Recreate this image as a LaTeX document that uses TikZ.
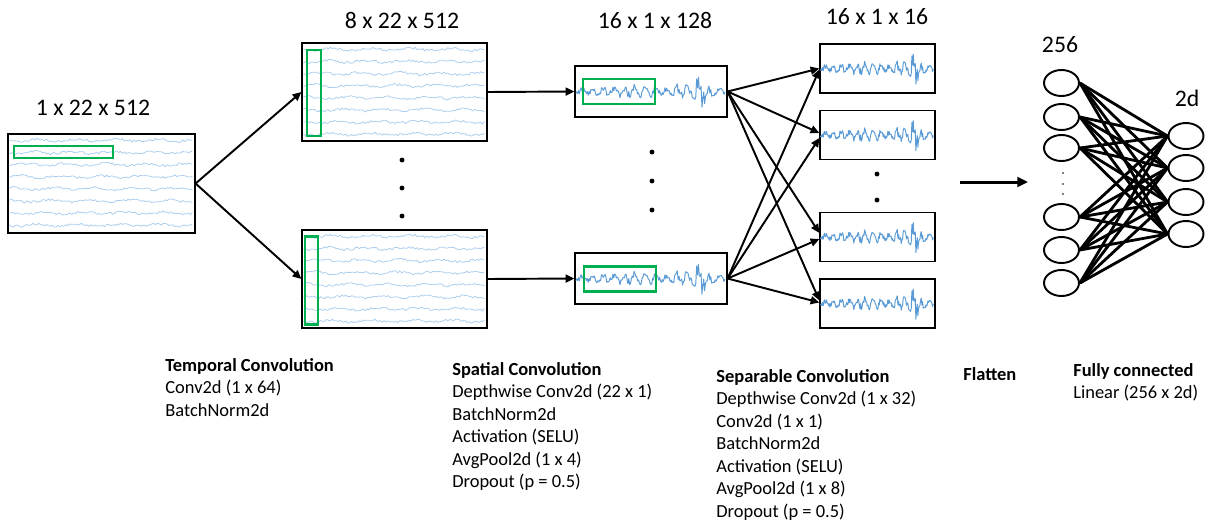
\documentclass[tikz,border=0pt]{standalone}
\usepackage{fontspec}
\setmainfont{Carlito}
\usepackage{tikz}
\usetikzlibrary{arrows.meta, shapes.geometric}

\definecolor{eegblue}{RGB}{172,206,238}
\definecolor{sigblue}{RGB}{91,155,213}
\definecolor{kgreen}{RGB}{0,176,80}

\begin{document}
\begin{tikzpicture}[x=0.02cm, y=-0.02cm,
    every node/.style={font=\fontsize{10.5}{12.8}\selectfont},
    dimlabel/.style={font=\fontsize{13.5}{16}\selectfont, anchor=base},
    layertext/.style={anchor=base west, align=left, inner sep=0pt},
    sigbox/.style={draw=black, line width=0.7pt, inner sep=0pt},
    kernel/.style={draw=kgreen, line width=1.7pt},
    eeg/.style={eegblue, line width=0.45pt, line join=round},
    sig/.style={sigblue, line width=0.55pt, line join=round},
    arr/.style={line width=1.1pt, -{Triangle[length=5pt, width=4.5pt]}},
    unit/.style={ellipse, draw=black, line width=1.1pt, minimum width=0.7cm, minimum height=0.52cm, inner sep=0pt},
    link/.style={line width=1.6pt},
    declare function={amp(\t)=5+12*max(0,1-((\t-0.84)/0.07)^2)+7*max(0,1-((\t-0.7)/0.05)^2)+2*max(0,1-((\t-0.4)/0.15)^2);}
]
\useasboundingbox (0,0) rectangle (1208,525);

% 1. INPUT EEG (1 x 22 x 512)
\node[sigbox, minimum width=3.74cm, minimum height=1.98cm] (in) at (101.5,183.5) {};
\node[dimlabel] (lin) at (93,115) {1 x 22 x 512};

% 2. TEMPORAL CONVOLUTION MAPS
\node[sigbox, minimum width=3.70cm, minimum height=1.96cm] (c1top) at (394.5,92) {};
\node[sigbox, minimum width=3.70cm, minimum height=1.96cm] (c1bot) at (394.5,279) {};
\node[dimlabel] (lc1) at (402,28) {8 x 22 x 512};

% EEG traces inside the three multi-channel boxes
\foreach \b/\w in {in/187, c1top/185, c1bot/185} {
  \begin{scope}[shift={(\b.north west)}]
    \pgfmathsetseed{11}
    \foreach \k in {0,...,7}
      \draw[eeg] plot[domain=2:\w-2, samples=95] (\x, {7+12.1*\k + 1.1*sin(9*\x+50*\k) + 1.2*rand});
  \end{scope}
}

% kernels (green)
\draw[kernel] (14,146) rectangle (113,158);
\draw[kernel] (307,50) rectangle (321,136);
\draw[kernel] (305,236) rectangle (318,324);

\foreach \y in {160,188,216} \fill (402,\y) circle (1.4pt);

% 3. SPATIAL CONVOLUTION MAPS
\node[sigbox, minimum width=3.04cm, minimum height=1.02cm] (c2top) at (651,91.5) {};
\node[sigbox, minimum width=3.04cm, minimum height=1.02cm] (c2bot) at (651,278.5) {};
\node[dimlabel] (lc2) at (655,28) {16 x 1 x 128};
\foreach \y in {152,181,210} \fill (652,\y) circle (1.4pt);

% 4. SEPARABLE CONVOLUTION MAPS
\node[sigbox, minimum width=2.30cm, minimum height=0.98cm] (s1) at (877.5,68.5) {};
\node[sigbox, minimum width=2.30cm, minimum height=0.98cm] (s2) at (877.5,135) {};
\node[sigbox, minimum width=2.30cm, minimum height=0.98cm] (s3) at (877.5,237) {};
\node[sigbox, minimum width=2.30cm, minimum height=0.98cm] (s4) at (877.5,303.5) {};
\node[dimlabel] (ls) at (877,24) {16 x 1 x 16};
\foreach \y in {174,200} \fill (877,\y) circle (1.4pt);

% single channel signals
\foreach \b/\w in {c2top/152, c2bot/152, s1/115, s2/115, s3/115, s4/115} {
  \begin{scope}[shift={(\b.west)}]
    \pgfmathsetseed{5}
    \draw[sig] plot[domain=0.01:0.99, samples=170, variable=\t] ({\t*\w}, {amp(\t)*(0.55*sin(\t*5200)+0.55*rand)});
  \end{scope}
}
\draw[kernel] (583,79) rectangle (655,104);
\draw[kernel] (584,266) rectangle (656,291);

% 5. ARROWS BETWEEN STAGES
\draw[arr] (in.east) -- (c1top.west);
\draw[arr] (in.east) -- (c1bot.west);
\draw[arr] (c1top.east) -- (c2top.west);
\draw[arr] (c1bot.east) -- (c2bot.west);

\draw[arr] (c2top.east) -- (s1.west);
\draw[arr] (c2top.east) -- ([yshift=0.04cm]s2.west);
\draw[arr] (c2top.east) -- ([yshift=0.08cm]s3.west);
\draw[arr] (c2top.east) -- ([yshift=0.06cm]s4.west);
\draw[arr] (c2bot.east) -- ([yshift=-0.02cm]s1.west);
\draw[arr] (c2bot.east) -- ([yshift=-0.06cm]s2.west);
\draw[arr] (c2bot.east) -- ([yshift=-0.04cm]s3.west);
\draw[arr] (c2bot.east) -- ([yshift=0.02cm]s4.west);

% 6. FLATTEN
\coordinate (fl0) at (960,182);
\coordinate (fl1) at (1028,182);
\draw[line width=1.7pt, -{Triangle[length=6pt, width=5.5pt]}] (fl0) -- (fl1);

% 7. FULLY CONNECTED
\foreach \i/\y in {1/83, 2/117, 3/148, 4/217, 5/250, 6/283}
  \node[unit] (l\i) at (1061.5,\y) {};
\foreach \j/\y in {1/136, 2/168, 3/202, 4/234}
  \node[unit] (r\j) at (1186,\y) {};
\foreach \i in {1,...,6}
  \foreach \j in {1,...,4}
    \draw[link] (l\i.east) -- (r\j.west);
\foreach \y in {173,184,194} \fill (1063,\y) circle (0.45pt);
\node[dimlabel] (lfc) at (1060,52) {256};
\node[dimlabel] (lout) at (1187,106) {2d};

% 8. LAYER DESCRIPTIONS (anchored on the last line)
\node[layertext] (t1) at (165,416) {\textbf{Temporal Convolution}\\Conv2d (1 x 64)\\BatchNorm2d};
\node[layertext] (t2) at (452,487.5) {\textbf{Spatial Convolution}\\Depthwise Conv2d (22 x 1)\\BatchNorm2d\\Activation (SELU)\\AvgPool2d (1 x 4)\\Dropout (p = 0.5)};
\node[layertext] (t3) at (716,517) {\textbf{Separable Convolution}\\Depthwise Conv2d (1 x 32)\\Conv2d (1 x 1)\\BatchNorm2d\\Activation (SELU)\\AvgPool2d (1 x 8)\\Dropout (p = 0.5)};
\node[layertext] (t4) at (963,380) {\textbf{Flatten}};
\node[layertext] (t5) at (1073,398.5) {\textbf{Fully connected}\\Linear (256 x 2d)};

\end{tikzpicture}
\end{document}
